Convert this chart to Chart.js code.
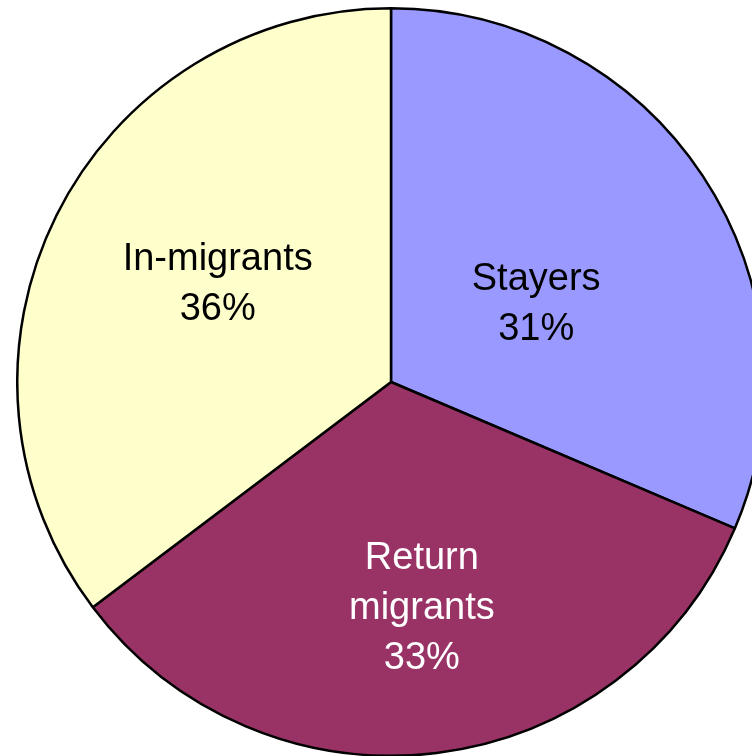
<!DOCTYPE html>
<html>
<head>
<meta charset="utf-8">
<script src="https://cdn.jsdelivr.net/npm/chart.js@4/dist/chart.umd.min.js"></script>
<style>
  html, body { margin: 0; padding: 0; background: #fff; overflow: hidden; width: 752px; height: 756px; }
  #wrap { position: absolute; left: 16px; top: 7px; width: 750px; height: 750px; }
</style>
</head>
<body>
<div id="wrap"><canvas id="pie"></canvas></div>
<script>
  'use strict';

  var categories = ['Stayers', 'Return migrants', 'In-migrants'];
  var shares = [31.4, 33.3, 35.3];
  var shareLabels = ['31%', '33%', '36%'];
  var sliceColors = ['#9999FF', '#993366', '#FFFFCC'];

  // label text lines and placement, per slice
  var labelLines = [['Stayers'], ['Return', 'migrants'], ['In-migrants']];
  var labelColors = ['#000', '#fff', '#000'];
  var labelPlace = [
    { frac: 0.44, dx: 8, dy: 13 },
    { frac: 0.61, dx: 3, dy: 0 },
    { frac: 0.53, dx: 4, dy: -9 }
  ];

  var sliceLabels = {
    id: 'sliceLabels',
    afterDatasetsDraw: function (chart) {
      var ctx = chart.ctx;
      var meta = chart.getDatasetMeta(0);
      ctx.save();
      ctx.font = '38px "Liberation Sans", Arial, sans-serif';
      ctx.textAlign = 'center';
      ctx.textBaseline = 'middle';
      var lh = 50;
      meta.data.forEach(function (arc, i) {
        var p = arc.getProps(['x', 'y', 'startAngle', 'endAngle', 'outerRadius'], true);
        var mid = (p.startAngle + p.endAngle) / 2;
        var r = p.outerRadius * labelPlace[i].frac;
        var cx = p.x + Math.cos(mid) * r + labelPlace[i].dx;
        var cy = p.y + Math.sin(mid) * r + labelPlace[i].dy;
        var lines = labelLines[i].concat([shareLabels[i]]);
        var y0 = cy - (lines.length - 1) * lh / 2;
        ctx.fillStyle = labelColors[i];
        lines.forEach(function (t, k) {
          ctx.fillText(t, cx, y0 + k * lh);
        });
      });
      ctx.restore();
    }
  };

  var chart = new Chart(document.getElementById('pie'), {
    type: 'pie',
    data: {
      labels: categories,
      datasets: [{
        data: shares,
        backgroundColor: sliceColors,
        borderColor: '#000',
        borderWidth: 2.5
      }]
    },
    options: {
      responsive: true,
      maintainAspectRatio: false,
      animation: false,
      layout: { padding: 0 },
      plugins: {
        legend: { display: false },
        tooltip: { enabled: false }
      }
    },
    plugins: [sliceLabels]
  });
</script>
</body>
</html>
